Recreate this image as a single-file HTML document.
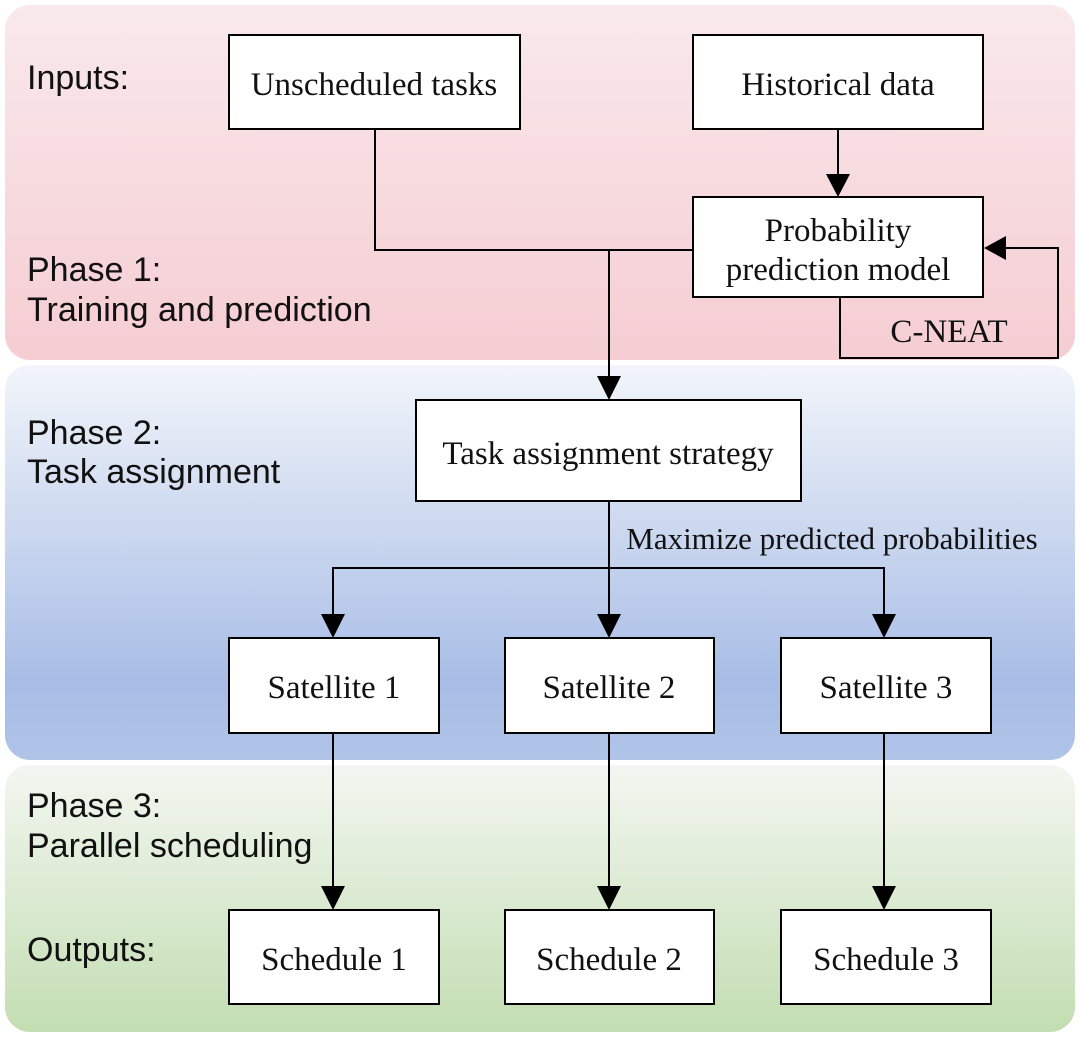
<!DOCTYPE html>
<html><head><style>body{margin:0;background:#fff}</style></head><body>
<svg width="1080" height="1037" xmlns="http://www.w3.org/2000/svg">
<defs>
<linearGradient id="r" x1="0" y1="0" x2="0" y2="1"><stop offset="0" stop-color="#f9e9eb"/><stop offset="1" stop-color="#f5cdd3"/></linearGradient>
<linearGradient id="b" x1="0" y1="0" x2="0" y2="1"><stop offset="0" stop-color="#f2f5fa"/><stop offset="0.8" stop-color="#a8bde6"/><stop offset="1" stop-color="#b0c4e8"/></linearGradient>
<linearGradient id="g" x1="0" y1="0" x2="0" y2="1"><stop offset="0" stop-color="#f3f6f1"/><stop offset="1" stop-color="#c3deb2"/></linearGradient>
</defs>
<rect x="5" y="5" width="1070" height="355" rx="25" fill="url(#r)"/>
<rect x="5" y="365" width="1070" height="395" rx="25" fill="url(#b)"/>
<rect x="5" y="765" width="1070" height="267" rx="25" fill="url(#g)"/>
<g font-family="Liberation Sans, sans-serif" font-size="34" fill="#111">
<text x="27" y="89">Inputs:</text>
<text x="27" y="281">Phase 1:</text>
<text x="27" y="321">Training and prediction</text>
<text x="27" y="444">Phase 2:</text>
<text x="27" y="483">Task assignment</text>
<text x="27" y="817">Phase 3:</text>
<text x="27" y="857">Parallel scheduling</text>
<text x="27" y="961">Outputs:</text>
</g>
<g fill="none" stroke="#000" stroke-width="2">
<polyline points="375,129 375,250 693,250"/>
<line x1="609" y1="250" x2="609" y2="378"/>
<line x1="838" y1="129" x2="838" y2="176"/>
<polyline points="840,297 840,358 1058,358 1058,248 1005,248"/>
<line x1="609" y1="501" x2="609" y2="616"/>
<polyline points="333,616 333,568 884,568 884,616"/>
<line x1="333" y1="733" x2="333" y2="888"/>
<line x1="609" y1="733" x2="609" y2="888"/>
<line x1="884" y1="733" x2="884" y2="888"/>
</g>
<g fill="#000">
<path d="M597,376 L621,376 L609,400Z"/>
<path d="M826,174 L850,174 L838,197Z"/>
<path d="M1006,236 L1006,260 L984,248Z"/>
<path d="M321,614 L345,614 L333,638Z"/>
<path d="M597,614 L621,614 L609,638Z"/>
<path d="M872,614 L896,614 L884,638Z"/>
<path d="M321,886 L345,886 L333,910Z"/>
<path d="M597,886 L621,886 L609,910Z"/>
<path d="M872,886 L896,886 L884,910Z"/>
</g>
<g fill="#fff" stroke="#000" stroke-width="2">
<rect x="229" y="35" width="291" height="94"/>
<rect x="693" y="35" width="290" height="94"/>
<rect x="693" y="197" width="290" height="100"/>
<rect x="416" y="400" width="385" height="101"/>
<rect x="229" y="638" width="210" height="95"/>
<rect x="505" y="638" width="209" height="95"/>
<rect x="781" y="638" width="210" height="95"/>
<rect x="229" y="910" width="210" height="94"/>
<rect x="505" y="910" width="209" height="94"/>
<rect x="781" y="910" width="210" height="94"/>
</g>
<g font-family="Liberation Serif, serif" font-size="33" fill="#111" text-anchor="middle">
<text x="374" y="95">Unscheduled tasks</text>
<text x="838" y="95">Historical data</text>
<text x="838" y="241">Probability</text>
<text x="838" y="280">prediction model</text>
<text x="949" y="342">C-NEAT</text>
<text x="608" y="464">Task assignment strategy</text>
<text x="334" y="698">Satellite 1</text>
<text x="609" y="698">Satellite 2</text>
<text x="886" y="698">Satellite 3</text>
<text x="334" y="970">Schedule 1</text>
<text x="609" y="970">Schedule 2</text>
<text x="886" y="970">Schedule 3</text>
<text x="832" y="549" font-size="31">Maximize predicted probabilities</text>
</g>
</svg>
</body></html>
